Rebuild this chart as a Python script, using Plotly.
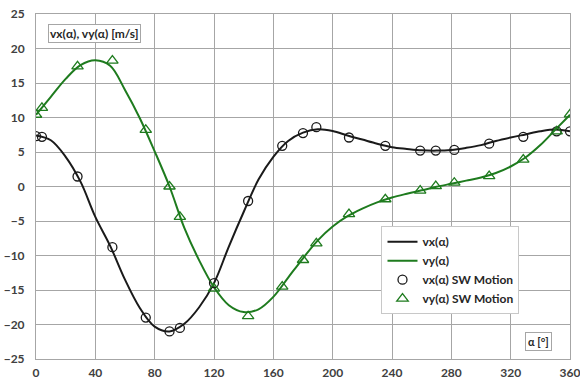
import plotly.graph_objects as go

# Smooth curves
alpha_line = [0, 10, 20, 30, 40, 50, 60, 70, 80, 90, 100, 110, 120, 130, 140, 150, 160, 170, 180,
              190, 200, 210, 220, 230, 240, 250, 260, 270, 280, 290, 300, 310, 320, 330, 340, 350, 360]
vx_line = [7.4, 6.7, 4.3, 0.7, -4.4, -8.6, -13.5, -17.6, -20.3, -21.0, -19.9, -17.5, -14.0, -8.7,
           -3.7, 1.0, 4.3, 6.6, 7.8, 8.3, 8.05, 7.4, 6.8, 6.2, 5.7, 5.45, 5.25, 5.2, 5.3, 5.6, 6.0,
           6.6, 7.1, 7.55, 8.0, 8.25, 8.0]
vy_line = [10.4, 13.0, 15.6, 17.6, 18.3, 17.5, 14.0, 9.9, 5.1, 0.0, -6.0, -10.7, -14.6, -17.2,
           -18.2, -17.8, -16.0, -13.2, -10.4, -7.8, -5.8, -4.3, -3.2, -2.3, -1.6, -1.05, -0.55,
           -0.05, 0.4, 0.85, 1.3, 1.95, 2.9, 4.2, 6.0, 8.2, 10.4]

# SW Motion sample points
alpha_sw = [0, 4, 28, 51.5, 74, 90, 97, 120, 143, 166, 180, 189, 211, 235.5, 259, 269.5, 282,
            305.5, 328.5, 351, 360]
vx_sw = [7.3, 7.2, 1.45, -8.8, -19.0, -21.0, -20.5, -14.0, -2.1, 5.9, 7.75, 8.6, 7.1, 5.9, 5.2,
         5.2, 5.3, 6.2, 7.2, 8.0, 8.0]
vy_sw = [10.4, 11.4, 17.4, 18.25, 8.2, 0.0, -4.4, -14.8, -18.8, -14.5, -10.65, -8.25, -4.0,
         -1.85, -0.6, 0.05, 0.55, 1.5, 3.9, 8.0, 10.45]

x_ticks = [0, 40, 80, 120, 160, 200, 240, 280, 320, 360]
y_ticks = [-25, -20, -15, -10, -5, 0, 5, 10, 15, 20, 25]

BLACK = "#1a1a1a"
GREEN = "#1e7b1e"
GRID = "#a6a6a6"
FONT = "Lato"

fig = go.Figure()
fig.add_trace(go.Scatter(x=alpha_line, y=vx_line, mode="lines", name="vx(α)",
                         line=dict(color=BLACK, width=2, shape="spline", smoothing=1)))
fig.add_trace(go.Scatter(x=alpha_line, y=vy_line, mode="lines", name="vy(α)",
                         line=dict(color=GREEN, width=2, shape="spline", smoothing=1)))
fig.add_trace(go.Scatter(x=alpha_sw, y=vx_sw, mode="markers", name="vx(α) SW Motion",
                         marker=dict(symbol="circle-open", size=9, color=BLACK,
                                     line=dict(width=1.3, color=BLACK))))
fig.add_trace(go.Scatter(x=alpha_sw, y=vy_sw, mode="markers", name="vy(α) SW Motion",
                         marker=dict(symbol="triangle-up-open", size=10, color=GREEN,
                                     line=dict(width=1.3, color=GREEN))))

fig.update_layout(
    width=580, height=381,
    margin=dict(l=36, r=10, t=14, b=22, autoexpand=False),
    paper_bgcolor="white", plot_bgcolor="white",
    font=dict(family=FONT, size=12, color="#404040"),
    showlegend=True,
    legend=dict(x=0.647, y=0.385, xanchor="left", yanchor="top",
                bgcolor="white", bordercolor="#c8c8c8", borderwidth=1,
                font=dict(family=FONT, size=12, color="#262626", weight="bold"),
                itemwidth=30, tracegroupgap=0),
    xaxis=dict(range=[0, 360], tickvals=x_ticks, showgrid=True, gridcolor=GRID, gridwidth=1,
               zeroline=False, showline=True, linecolor=GRID, mirror=True, automargin=False,
               tickfont=dict(family=FONT, size=12, color="#404040", weight="bold"),
               ticks="", ticklabelstandoff=3, ticklabeloverflow="allow"),
    yaxis=dict(range=[-25, 25], tickvals=y_ticks, showgrid=True, gridcolor=GRID, gridwidth=1,
               zeroline=False, showline=True, linecolor=GRID, mirror=True, automargin=False,
               tickfont=dict(family=FONT, size=12, color="#404040", weight="bold"),
               ticks="", ticklabelstandoff=8, ticklabeloverflow="allow"),
    annotations=[
        dict(text="vx(α), vy(α) [m/s]", xref="paper", yref="paper", x=0.022, y=0.972,
             xanchor="left", yanchor="top", showarrow=False,
             font=dict(family=FONT, size=12, color="#262626", weight="bold"),
             bgcolor="white", bordercolor="#a6a6a6", borderwidth=1, borderpad=1),
        dict(text="α [°]", xref="paper", yref="paper", x=0.966, y=0.078,
             xanchor="right", yanchor="top", showarrow=False,
             font=dict(family=FONT, size=11, color="#262626", weight="bold"),
             bgcolor="white", bordercolor="#a6a6a6", borderwidth=1, borderpad=2),
    ],
)

fig.write_html("out.html")
